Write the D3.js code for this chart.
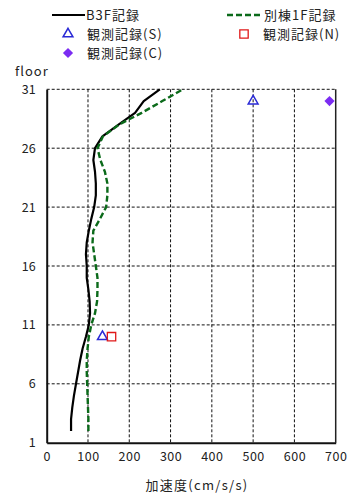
<!DOCTYPE html>
<html>
<head>
<meta charset="utf-8">
<script src="https://cdn.jsdelivr.net/npm/d3@7"></script>
<style>
  html, body { margin: 0; padding: 0; background: #fff; }
  svg { display: block; }
  text { font-family: "Noto Sans CJK JP", "DejaVu Sans", sans-serif; fill: #222; }
</style>
</head>
<body>
<svg id="chart" width="351" height="496"></svg>
<script>
// Floors 2..31 and peak acceleration profiles (cm/s/s)
const floors = [2,3,4,5,6,7,8,9,10,11,12,13,14,15,16,17,18,19,20,21,22,23,24,25,26,27,28,29,30,31];
const b3f    = [59,59,62,66,71,76,81,87,95,102,105,104,101,97,97,95,97,102,108,115,119,119,117,113,117,135,174,214,235,274];
const annex1f= [101,101,100,99,98,97,97,99,102,108,117,122,123,123,119,115,111,113,129,144,147,147,141,130,123,136,175,230,280,330];

// Observed records
const obsS = [{floor: 30, v: 500}, {floor: 10, v: 135}];
const obsN = [{floor: 10, v: 157}];
const obsC = [{floor: 30, v: 685}];

const xTicks = [0,100,200,300,400,500,600,700];
const yTicks = [1,6,11,16,21,26,31];

const svg = d3.select("#chart");
const x = d3.scaleLinear().domain([0, 700]).range([46.7, 335.7]);
const y = d3.scaleLinear().domain([1, 31]).range([442.7, 89.3]);

// grid
const grid = svg.append("g");
grid.selectAll(".vg").data(xTicks.filter(t => t > 0 && t < 700)).join("line")
  .attr("x1", d => x(d)).attr("x2", d => x(d))
  .attr("y1", y(31)).attr("y2", y(1))
  .attr("stroke", "#111").attr("stroke-width", 1).attr("stroke-dasharray", "3,2");
grid.selectAll(".hg").data(yTicks.filter(t => t > 1)).join("line")
  .attr("x1", x(0)).attr("x2", x(700))
  .attr("y1", d => y(d)).attr("y2", d => y(d))
  .attr("stroke", "#111").attr("stroke-width", 1).attr("stroke-dasharray", "3,2");
// right border
grid.append("line")
  .attr("x1", x(700)).attr("x2", x(700)).attr("y1", y(31)).attr("y2", y(1))
  .attr("stroke", "#222").attr("stroke-width", 1.5);

// axes
const xAxis = svg.append("g").attr("transform", `translate(0,${y(1)})`)
  .call(d3.axisBottom(x).tickValues(xTicks).tickSize(0).tickPadding(9).tickFormat(d3.format("d")));
xAxis.select(".domain").attr("stroke", "#111").attr("stroke-width", 2);
xAxis.selectAll("text").attr("font-size", 12.5).attr("fill", "#222").attr("letter-spacing", 0.5)
  .style("font-family", '"Noto Sans CJK JP", sans-serif');

const yAxis = svg.append("g").attr("transform", `translate(${x(0)},0)`)
  .call(d3.axisLeft(y).tickValues(yTicks).tickSize(0).tickPadding(11).tickFormat(d3.format("d")));
yAxis.select(".domain").attr("stroke", "#111").attr("stroke-width", 2);
yAxis.selectAll("text").attr("font-size", 12.5).attr("fill", "#222")
  .style("font-family", '"Noto Sans CJK JP", sans-serif');

// profiles
const line = d3.line().x(d => x(d[1])).y(d => y(d[0]));
svg.append("path")
  .datum(floors.map((f, i) => [f, b3f[i]]))
  .attr("d", line).attr("fill", "none")
  .attr("stroke", "#000").attr("stroke-width", 2.2).attr("stroke-linejoin", "round");
svg.append("path")
  .datum(floors.map((f, i) => [f, annex1f[i]]))
  .attr("d", line).attr("fill", "none")
  .attr("stroke", "#0b6a1a").attr("stroke-width", 2.4).attr("stroke-dasharray", "6,3");

// markers
const tri = d3.symbol().type(d3.symbolTriangle).size(42);
const sq = d3.symbol().type(d3.symbolSquare).size(70);
const dia = d3.symbol().type(d3.symbolSquare).size(52); // rotated 45° below
svg.selectAll(".s").data(obsS).join("path")
  .attr("transform", d => `translate(${x(d.v)},${y(d.floor)})`)
  .attr("d", tri).attr("fill", "none").attr("stroke", "#2a2ad6").attr("stroke-width", 1.5);
svg.selectAll(".n").data(obsN).join("path")
  .attr("transform", d => `translate(${x(d.v)},${y(d.floor)})`)
  .attr("d", sq).attr("fill", "none").attr("stroke", "#e01818").attr("stroke-width", 1.3);
svg.selectAll(".c").data(obsC).join("path")
  .attr("transform", d => `translate(${x(d.v)},${y(d.floor)}) rotate(45)`)
  .attr("d", dia).attr("fill", "#7b2cf2");

// axis titles
svg.append("text").attr("x", 15).attr("y", 76).attr("font-size", 13).attr("letter-spacing", 1).text("floor");
svg.append("text").attr("x", 197).attr("y", 490).attr("text-anchor", "middle")
  .attr("font-size", 13).attr("letter-spacing", 1.3).text("加速度(cm/s/s)");

// legend
const lg = svg.append("g").attr("font-size", 13).attr("letter-spacing", 1);
lg.append("line").attr("x1", 52).attr("x2", 85).attr("y1", 15).attr("y2", 15)
  .attr("stroke", "#000").attr("stroke-width", 2);
lg.append("text").attr("x", 86).attr("y", 20).text("B3F記録");
lg.append("line").attr("x1", 227).attr("x2", 262).attr("y1", 15).attr("y2", 15)
  .attr("stroke", "#0b6a1a").attr("stroke-width", 2.4).attr("stroke-dasharray", "6,3");
lg.append("text").attr("x", 264).attr("y", 20).text("別棟1F記録");
lg.append("path").attr("transform", "translate(68,34)").attr("d", tri)
  .attr("fill", "none").attr("stroke", "#2a2ad6").attr("stroke-width", 1.5);
lg.append("text").attr("x", 87).attr("y", 39).text("観測記録(S)");
lg.append("path").attr("transform", "translate(244,34)").attr("d", sq)
  .attr("fill", "none").attr("stroke", "#e01818").attr("stroke-width", 1.3);
lg.append("text").attr("x", 263).attr("y", 39).text("観測記録(N)");
lg.append("path").attr("transform", "translate(68,53) rotate(45)").attr("d", dia).attr("fill", "#7b2cf2");
lg.append("text").attr("x", 87).attr("y", 58).text("観測記録(C)");
</script>
</body>
</html>
